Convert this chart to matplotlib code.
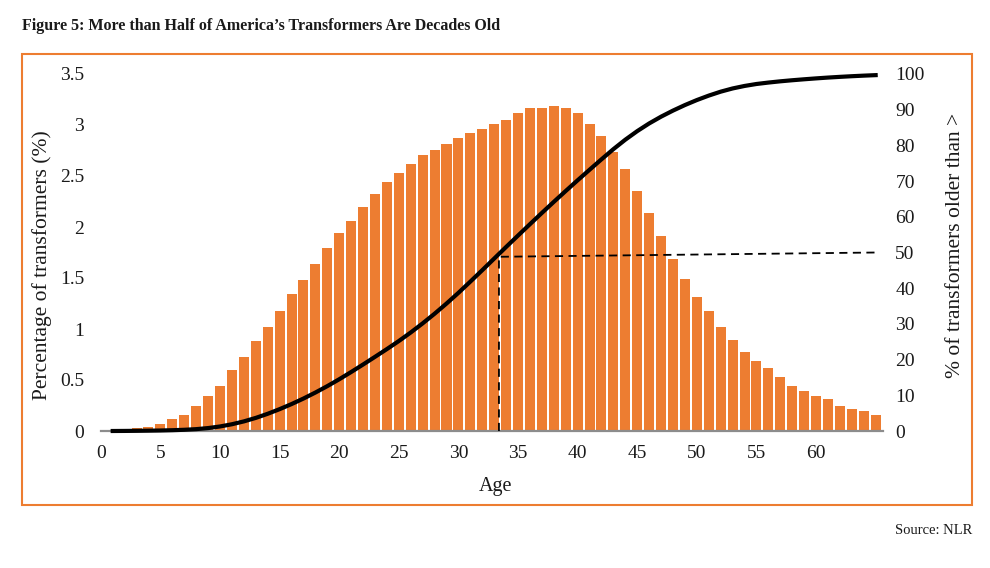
import matplotlib
matplotlib.use("Agg")
import matplotlib.pyplot as plt
from matplotlib.patches import Rectangle

# ---- data ----
ages = list(range(1, 66))
pct_transformers = [
    0.01, 0.02, 0.03, 0.04, 0.07, 0.12, 0.16, 0.25, 0.34, 0.44,   # 1-10
    0.60, 0.73, 0.88, 1.02, 1.18, 1.34, 1.48, 1.64, 1.79, 1.94,   # 11-20
    2.06, 2.20, 2.32, 2.44, 2.53, 2.62, 2.71, 2.75, 2.81, 2.87,   # 21-30
    2.92, 2.96, 3.01, 3.05, 3.12, 3.17, 3.17, 3.19, 3.17, 3.12,   # 31-40
    3.01, 2.89, 2.74, 2.57, 2.35, 2.14, 1.91, 1.69, 1.49, 1.31,   # 41-50
    1.18, 1.02, 0.89, 0.77, 0.69, 0.62, 0.53, 0.44, 0.39, 0.34,   # 51-60
    0.31, 0.25, 0.22, 0.20, 0.16,                                 # 61-65
]
pct_older = [
    0.0, 0.02, 0.05, 0.09, 0.14, 0.22, 0.34, 0.52, 0.82, 1.27,    # 1-10
    1.89, 2.69, 3.67, 4.82, 6.12, 7.54, 9.09, 10.77, 12.57, 14.49,  # 11-20
    16.52, 18.62, 20.77, 22.95, 25.2, 27.6, 30.15, 32.85, 35.7, 38.7,  # 21-30
    41.85, 45.05, 48.3, 51.55, 54.75, 57.93, 61.08, 64.18, 67.23, 70.23,  # 31-40
    73.18, 76.1, 78.95, 81.6, 84.0, 86.15, 88.05, 89.75, 91.3, 92.7,  # 41-50
    93.95, 95.05, 95.95, 96.65, 97.2, 97.6, 97.95, 98.25, 98.52, 98.77,  # 51-60
    99.0, 99.2, 99.38, 99.54, 99.68,                               # 61-65
]
median_x = [33.4, 33.4, 65.1]
median_y = [0, 48.8, 50.0]

x_ticks = list(range(0, 61, 5))
left_ticks = [0, 0.5, 1, 1.5, 2, 2.5, 3, 3.5]
left_labels = ["0", "0.5", "1", "1.5", "2", "2.5", "3", "3.5"]
right_ticks = list(range(0, 101, 10))

title = "Figure 5: More than Half of America\u2019s Transformers Are Decades Old"
source = "Source: NLR"

ORANGE = "#ED7D31"
TXT = "#1a1a1a"
SERIF = ["Liberation Serif", "DejaVu Serif"]

W, H = 990, 568
fig = plt.figure(figsize=(W / 100, H / 100), dpi=100)
fig.patch.set_facecolor("white")

ax = fig.add_axes([100.8 / W, (H - 431) / H, 782 / W, 357 / H])
ax2 = ax.twinx()

ax.bar(ages, pct_transformers, width=0.84, color=ORANGE, zorder=2)
ax.set_xlim(0, 65.6)
ax.set_ylim(0, 3.5)
ax.set_xticks(x_ticks)
ax.set_xticklabels([str(t) for t in x_ticks])
ax.set_yticks(left_ticks)
ax.set_yticklabels(left_labels)

ax2.set_ylim(0, 100)
ax2.set_yticks(right_ticks)
ax2.set_yticklabels([str(t) for t in right_ticks])
ax2.plot(ages, pct_older, color="black", lw=3.0, solid_capstyle="projecting",
         solid_joinstyle="round", clip_on=False, zorder=5)
ax2.plot(median_x, median_y, color="black", lw=1.3, linestyle=(0, (4.5, 3)),
         zorder=4)

for a in (ax, ax2):
    for s in a.spines.values():
        s.set_visible(False)
    a.tick_params(length=0)
ax.spines["bottom"].set_visible(True)
ax.spines["bottom"].set_color("#8c8c8c")
ax.spines["bottom"].set_linewidth(1.6)

for lab in ax.get_xticklabels() + ax.get_yticklabels() + ax2.get_yticklabels():
    lab.set_fontfamily(SERIF)
    lab.set_fontsize(14)
    lab.set_color(TXT)
ax.tick_params(axis="x", pad=10)
ax.tick_params(axis="y", pad=12)
ax2.tick_params(axis="y", pad=9)

fig.text(496 / W, 1 - 486 / H, "Age", ha="center", va="center",
         fontsize=14.5, family=SERIF, color=TXT)
fig.text(42 / W, 1 - 265 / H, "Percentage of transformers (%)", ha="center",
         va="center", rotation=90, fontsize=15.5, family=SERIF, color=TXT)
fig.text(955 / W, 1 - 245 / H, "% of transformers older than >", ha="center",
         va="center", rotation=90, fontsize=15.5, family=SERIF, color=TXT)

fig.text(22 / W, 1 - 26 / H, title, ha="left", va="center", fontsize=11.5,
         fontweight="bold", family=SERIF, color=TXT)
fig.text(972 / W, 1 - 530 / H, source, ha="right", va="center", fontsize=10.5,
         family=SERIF, color=TXT)

fig.add_artist(Rectangle((21.5 / W, (H - 505) / H), (972 - 21.5) / W,
                         (505 - 53.5) / H, transform=fig.transFigure,
                         fill=False, edgecolor=ORANGE, lw=1.5))

fig.savefig("out.png", dpi=100)
